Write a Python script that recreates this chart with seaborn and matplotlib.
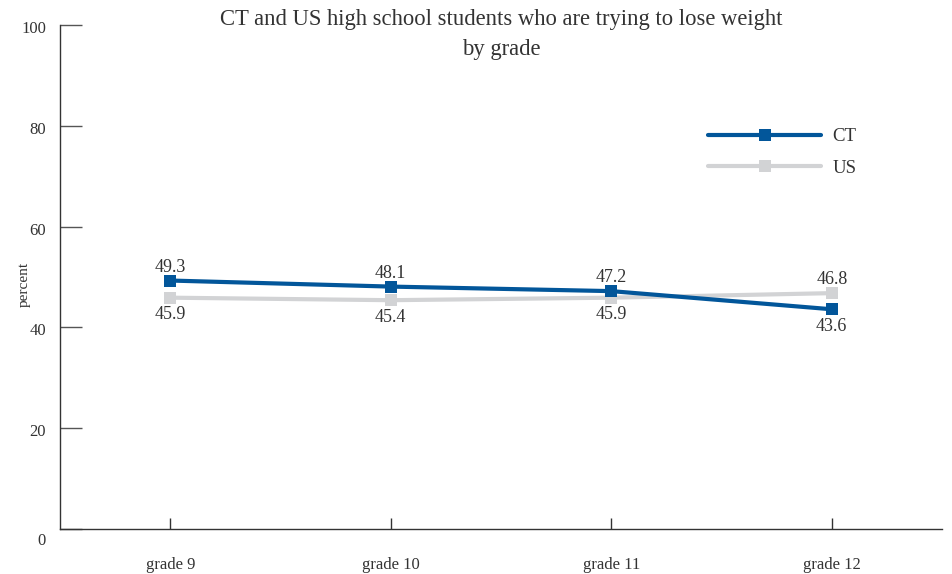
import matplotlib
matplotlib.use("Agg")
import matplotlib.pyplot as plt
import matplotlib.transforms as mtransforms
from matplotlib.lines import Line2D
import seaborn as sns
import pandas as pd

grades = ["grade 9", "grade 10", "grade 11", "grade 12"]
ct_values = [49.3, 48.1, 47.2, 43.6]
us_values = [45.9, 45.4, 45.9, 46.8]
series_names = ["CT", "US"]
series_colors = {"CT": "#02569a", "US": "#d2d3d5"}
y_ticks = [0, 20, 40, 60, 80, 100]

df = pd.DataFrame({
    "grade": grades * 2,
    "pos": list(range(len(grades))) * 2,
    "percent": ct_values + us_values,
    "group": [series_names[0]] * len(grades) + [series_names[1]] * len(grades),
})

sns.set_style("white")
plt.rcParams["font.family"] = ["Liberation Serif", "DejaVu Serif"]
plt.rcParams["text.color"] = "#333333"

fig = plt.figure(figsize=(9.52, 5.74), dpi=100)
ax = fig.add_axes([0.063, 0.0784, 0.9265, 0.878])

sns.lineplot(data=df, x="pos", y="percent", hue="group", palette=series_colors,
             hue_order=["US", "CT"], marker="s", markersize=8, markeredgewidth=0,
             linewidth=3.0, ax=ax, legend=False)

# value labels: higher series above its point, lower series below
for i in range(len(grades)):
    ct, us = ct_values[i], us_values[i]
    for val, other in ((ct, us), (us, ct)):
        dy = 3.5 if val >= other else -6
        va = "bottom" if dy > 0 else "top"
        ax.annotate(f"{val:.1f}", (i, val), xytext=(0, dy), textcoords="offset points",
                    ha="center", va=va, fontsize=13, color="#333333")

ax.set_xlim(-0.5, 3.5)
ax.set_ylim(0, 100)
ax.set_xticks(range(len(grades)))
ax.set_xticklabels(grades)
ax.set_yticks(y_ticks)
ax.set_xlabel("")
ax.set_ylabel("percent", fontsize=11, color="#333333")
ax.yaxis.set_label_coords(-0.033, 0.485)

for side in ("top", "right"):
    ax.spines[side].set_visible(False)
for side in ("left", "bottom"):
    ax.spines[side].set_color("#333333")
    ax.spines[side].set_linewidth(1.0)

ax.tick_params(axis="y", direction="in", length=16, width=1, color="#555555",
               labelsize=12, labelcolor="#333333", pad=10, left=True)
ax.tick_params(axis="x", direction="in", length=8, width=1, color="#333333",
               labelsize=12, labelcolor="#333333", pad=20, bottom=True)

# nudge the y tick labels slightly downward, the zero label a bit more
for lbl, v in zip(ax.get_yticklabels(), y_ticks):
    shift = -10 if v == 0 else -2
    lbl.set_transform(lbl.get_transform() +
                      mtransforms.ScaledTranslation(0, shift / 100, fig.dpi_scale_trans))

fig.text(0.527, 0.984, "CT and US high school students who are trying to lose weight\nby grade",
         ha="center", va="top", fontsize=16.3, color="#333333", linespacing=1.55)

handles = [Line2D([], [], color=series_colors[n], linewidth=3.0, marker="s",
                  markersize=8, markeredgewidth=0) for n in series_names]
ax.legend(handles, series_names, loc="upper left", bbox_to_anchor=(0.716, 0.829),
          frameon=False, fontsize=13.5, handlelength=6.0, handletextpad=0.6,
          labelspacing=0.78)

fig.savefig("out.png", dpi=100)
